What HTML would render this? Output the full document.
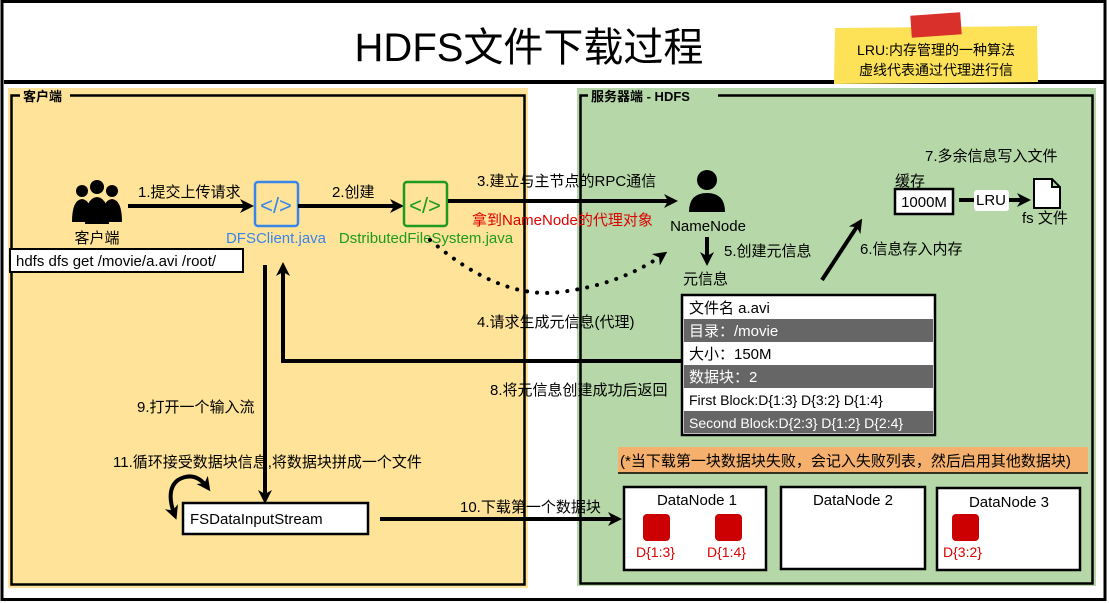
<!DOCTYPE html>
<html><head><meta charset="utf-8"><style>
html,body{margin:0;padding:0;background:#fff;}
svg{display:block;}
text{font-family:"Liberation Sans","Noto Sans CJK SC",sans-serif;}
</style></head><body>
<svg width="1109" height="603" viewBox="0 0 1109 603" xmlns="http://www.w3.org/2000/svg">
<defs>
<marker id="ah2" markerWidth="14" markerHeight="14" refX="10" refY="7" orient="auto" markerUnits="userSpaceOnUse"><path d="M0,0 L14,7 L0,14 L4,7 Z" fill="#000"/></marker>
<marker id="ah3" markerWidth="14" markerHeight="14" refX="4" refY="7" orient="auto" markerUnits="userSpaceOnUse"><path d="M14,0 L0,7 L14,14 L10,7 Z" fill="#000"/></marker>
</defs>
<rect x="0" y="0" width="1109" height="603" fill="#fff"/>
<rect x="2" y="1.5" width="1103" height="598" fill="none" stroke="#000" stroke-width="3"/>
<line x1="4" y1="82" x2="1105" y2="82" stroke="#000" stroke-width="4"/>
<text x="529" y="61" font-size="40" text-anchor="middle">HDFS文件下载过程</text>

<polygon points="835,28 1037,26 1038,82 834,84" fill="#fde157"/>
<rect x="911" y="14" width="50" height="22" fill="#d9302b" transform="rotate(-4 936 25)"/>
<text x="936" y="55" font-size="14" text-anchor="middle">LRU:内存管理的一种算法</text>
<text x="936" y="75" font-size="14" text-anchor="middle">虚线代表通过代理进行信</text>

<rect x="8" y="88" width="520" height="500" fill="#fee399"/>
<rect x="11.5" y="95.5" width="513" height="489" fill="none" stroke="#000" stroke-width="2.5"/>
<rect x="20" y="88" width="50" height="16" fill="#fee399"/>
<text x="23" y="101" font-size="13" font-weight="bold">客户端</text>

<rect x="577" y="88" width="519" height="498" fill="#b6d8a8"/>
<rect x="580.5" y="95.5" width="512" height="488" fill="none" stroke="#000" stroke-width="2.5"/>
<rect x="588" y="88" width="130" height="16" fill="#b6d8a8"/>
<text x="591" y="101" font-size="13" font-weight="bold">服务器端 - HDFS</text>

<g fill="#000">
<circle cx="97" cy="187" r="7"/><circle cx="82" cy="191" r="6"/><circle cx="112" cy="191" r="6"/>
<path d="M72,222 Q72,200 82,199 Q92,200 92,222 Z"/>
<path d="M102,222 Q102,200 112,199 Q122,200 122,222 Z"/>
<path d="M85,224 Q85,198 97,197 Q109,198 109,224 Z"/>
</g>
<text x="97" y="243" font-size="15" text-anchor="middle">客户端</text>
<rect x="10" y="249" width="233" height="23" fill="#fff" stroke="#000" stroke-width="2"/>
<text x="16" y="266" font-size="15">hdfs dfs get /movie/a.avi  /root/</text>

<line x1="128" y1="206" x2="250" y2="206" stroke="#000" stroke-width="4" marker-end="url(#ah2)"/>
<text x="138" y="197" font-size="15">1.提交上传请求</text>
<rect x="255" y="182" width="43" height="44" rx="3" fill="none" stroke="#3a86e8" stroke-width="2.5"/>
<text x="276" y="213" font-size="22" fill="#3a86e8" text-anchor="middle">&lt;/&gt;</text>
<text x="276" y="243" font-size="15" fill="#3a86e8" text-anchor="middle">DFSClient.java</text>
<line x1="298" y1="206" x2="400" y2="206" stroke="#000" stroke-width="4" marker-end="url(#ah2)"/>
<text x="332" y="197" font-size="15">2.创建</text>
<rect x="404" y="182" width="43" height="44" rx="3" fill="none" stroke="#1e9a1e" stroke-width="2.5"/>
<text x="425" y="213" font-size="22" fill="#1e9a1e" text-anchor="middle">&lt;/&gt;</text>
<text x="426" y="243" font-size="15" fill="#1e9a1e" text-anchor="middle">DstributedFileSystem.java</text>
<line x1="448" y1="201" x2="674" y2="201" stroke="#000" stroke-width="4" marker-end="url(#ah2)"/>
<text x="477" y="186" font-size="15">3.建立与主节点的RPC通信</text>
<text x="472" y="225" font-size="15" fill="#d00">拿到NameNode的代理对象</text>

<circle cx="707" cy="180" r="10" fill="#000"/>
<path d="M689,212 Q689,193 707,193 Q725,193 725,212 Z" fill="#000"/>
<text x="708" y="231" font-size="15" text-anchor="middle">NameNode</text>
<line x1="707" y1="237" x2="707" y2="262" stroke="#000" stroke-width="4" marker-end="url(#ah2)"/>
<text x="724" y="256" font-size="15">5.创建元信息</text>
<text x="683" y="284" font-size="15">元信息</text>

<path d="M430,240 Q500,300 560,292 Q620,285 664,254" fill="none" stroke="#000" stroke-width="4" stroke-dasharray="0.1 10" stroke-linecap="round" marker-end="url(#ah2)"/>
<text x="477" y="327" font-size="15">4.请求生成元信息(代理)</text>

<rect x="682" y="295" width="253" height="140" fill="#fff" stroke="#000" stroke-width="2.5"/>
<rect x="684" y="319" width="249" height="23" fill="#666"/>
<rect x="684" y="365" width="249" height="23" fill="#666"/>
<rect x="684" y="411" width="249" height="22" fill="#666"/>
<text x="689" y="313" font-size="15">文件名 a.avi</text>
<text x="689" y="336" font-size="15" fill="#fff">目录：/movie</text>
<text x="689" y="359" font-size="15">大小：150M</text>
<text x="689" y="382" font-size="15" fill="#fff">数据块：2</text>
<text x="689" y="405" font-size="14">First Block:D{1:3} D{3:2} D{1:4}</text>
<text x="689" y="428" font-size="14" fill="#fff">Second Block:D{2:3} D{1:2} D{2:4}</text>

<polyline points="682,361 283,361 283,266" fill="none" stroke="#000" stroke-width="4" marker-end="url(#ah2)"/>
<text x="490" y="395" font-size="15">8.将元信息创建成功后返回</text>
<line x1="265" y1="265" x2="265" y2="500" stroke="#000" stroke-width="4" marker-end="url(#ah2)"/>
<text x="137" y="412" font-size="15">9.打开一个输入流</text>
<text x="113" y="467" font-size="15">11.循环接受数据块信息,将数据块拼成一个文件</text>
<path d="M175,516 Q165,490 178,480 Q195,470 208,488" fill="none" stroke="#000" stroke-width="4" marker-start="url(#ah3)" marker-end="url(#ah2)"/>
<rect x="183" y="503" width="185" height="31" fill="#fff" stroke="#000" stroke-width="2.5"/>
<text x="190" y="524" font-size="15">FSDataInputStream</text>
<line x1="380" y1="519" x2="618" y2="519" stroke="#000" stroke-width="4" marker-end="url(#ah2)"/>
<text x="460" y="512" font-size="15">10.下载第一个数据块</text>

<line x1="822" y1="280" x2="860" y2="222" stroke="#000" stroke-width="4" marker-end="url(#ah2)"/>
<text x="860" y="254" font-size="15">6.信息存入内存</text>
<text x="925" y="161" font-size="15">7.多余信息写入文件</text>
<text x="895" y="186" font-size="15">缓存</text>
<rect x="895" y="189" width="58" height="25" fill="#fff" stroke="#000" stroke-width="2.5"/>
<text x="924" y="207" font-size="15" text-anchor="middle">1000M</text>
<line x1="959" y1="200" x2="1027" y2="200" stroke="#000" stroke-width="4" marker-end="url(#ah2)"/>
<rect x="974" y="190" width="35" height="21" rx="3" fill="#fff"/>
<text x="991" y="205" font-size="15" text-anchor="middle">LRU</text>
<path d="M1034,179 L1052,179 L1060,187 L1060,208 L1034,208 Z M1052,179 L1052,187 L1060,187" fill="#fff" stroke="#000" stroke-width="2"/>
<text x="1022" y="223" font-size="15">fs 文件</text>

<rect x="618" y="447" width="470" height="26" fill="#f4b06c"/>
<line x1="618" y1="473" x2="1088" y2="473" stroke="#000" stroke-width="1.5"/>
<text x="620" y="466" font-size="15">(*当下载第一块数据块失败，会记入失败列表，然后启用其他数据块)</text>

<rect x="624" y="487" width="142" height="83" fill="#fff" stroke="#000" stroke-width="2.5"/>
<rect x="781" y="487" width="144" height="82" fill="#fff" stroke="#000" stroke-width="2.5"/>
<rect x="937" y="488" width="143" height="82" fill="#fff" stroke="#000" stroke-width="2.5"/>
<text x="697" y="505" font-size="15" text-anchor="middle">DataNode 1</text>
<text x="853" y="505" font-size="15" text-anchor="middle">DataNode 2</text>
<text x="1009" y="507" font-size="15" text-anchor="middle">DataNode 3</text>
<rect x="643" y="514" width="27" height="27" rx="4" fill="#c00"/>
<rect x="715" y="514" width="27" height="27" rx="4" fill="#c00"/>
<rect x="952" y="514" width="27" height="27" rx="4" fill="#c00"/>
<text x="636" y="557" font-size="14" fill="#d00">D{1:3}</text>
<text x="707" y="557" font-size="14" fill="#d00">D{1:4}</text>
<text x="943" y="557" font-size="14" fill="#d00">D{3:2}</text>
</svg>
</body></html>
